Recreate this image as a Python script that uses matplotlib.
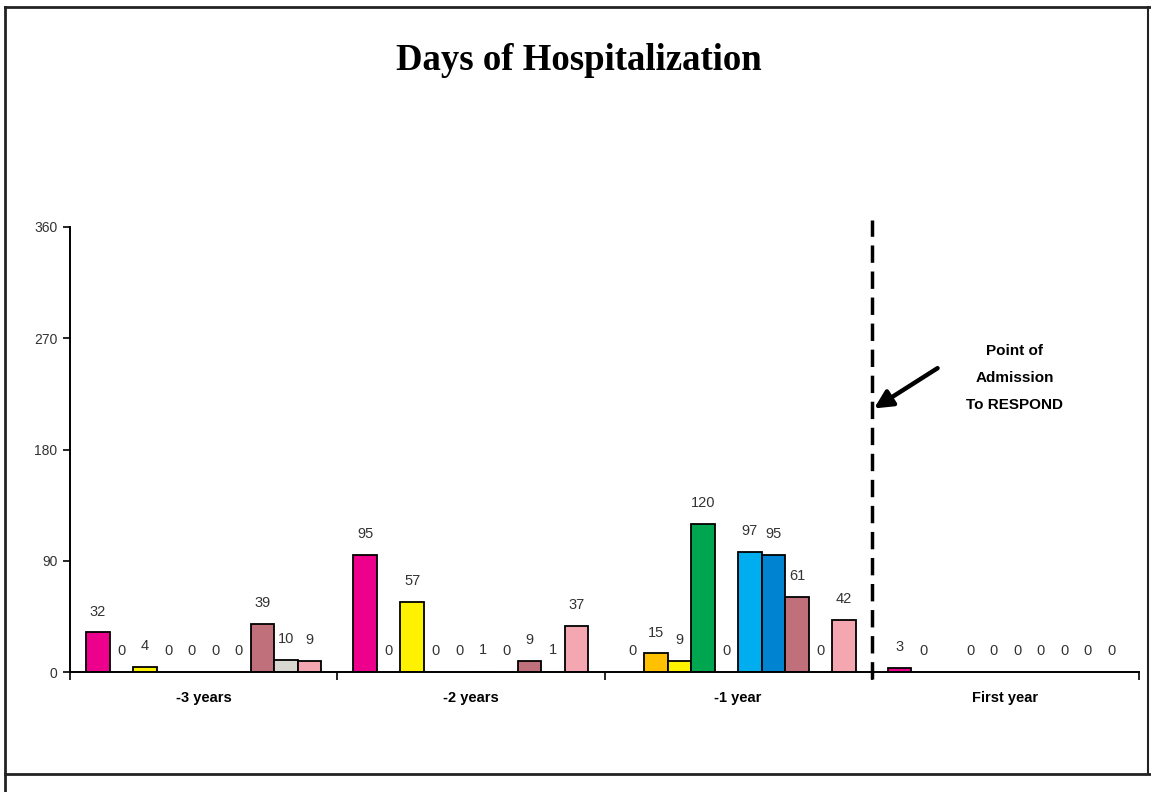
import matplotlib
matplotlib.use("Agg")
import matplotlib.pyplot as plt
from matplotlib.lines import Line2D

plt.rcParams['font.family'] = ['Liberation Sans', 'DejaVu Sans']

# --- dados ---
grupos = ['-3 years', '-2 years', '-1 year', 'First year']
s1 = [32, 95, 0, 3]
s2 = [0, 0, 15, 0]
s3 = [4, 57, 9, None]
s4 = [0, 0, 120, 0]
s5 = [0, 0, 0, 0]
s6 = [0, 1, 97, 0]
s7 = [0, 0, 95, 0]
s8 = [39, 9, 61, 0]
s9 = [10, 1, 0, 0]
s10 = [9, 37, 42, 0]
series = [s1, s2, s3, s4, s5, s6, s7, s8, s9, s10]
cores = ['#EC008C', '#FFC000', '#FFF200', '#00A550', '#9999FF',
         '#00AEEF', '#0083D0', '#C0707A', '#D8D8D0', '#F4A7B0']
y_ticks = [0, 90, 180, 270, 360]

fig = plt.figure(figsize=(11.51, 7.92), dpi=100)
ax = fig.add_axes([70 / 1151, 120 / 792, 1069 / 1151, 445 / 792])

n = len(series)
larg = 0.088
for i, (vals, cor) in enumerate(zip(series, cores)):
    off = -n * larg / 2 + (i + 0.5) * larg
    for g, v in enumerate(vals):
        if v is None:
            continue
        x = g + off
        if v > 1:
            ax.bar(x, v, width=larg, color=cor, edgecolor='black', linewidth=1.3)
        elif v > 0:
            # barras de 1 dia quase não aparecem no original
            ax.bar(x, v, width=larg, color=cor, linewidth=0)
        ax.annotate(str(v), (x, v), xytext=(0, 15), textcoords='offset points',
                    ha='center', va='center', fontsize=10.5, color='#333333')

ax.set_xlim(-0.5, len(grupos) - 0.5)
ax.set_ylim(0, 360)
ax.set_yticks(y_ticks)
ax.tick_params(axis='y', direction='out', length=5, width=1.2, labelsize=10,
               labelcolor='#333333', pad=4)

# ticks nas divisões dos grupos, rótulos no centro
ax.set_xticks([g - 0.5 for g in range(len(grupos) + 1)])
ax.set_xticklabels([])
ax.tick_params(axis='x', which='major', direction='out', length=6, width=1.2)
ax.set_xticks(range(len(grupos)), minor=True)
ax.set_xticklabels(grupos, minor=True, fontweight='bold', fontsize=10.5)
ax.tick_params(axis='x', which='minor', length=0, pad=14)

for lado in ['top', 'right']:
    ax.spines[lado].set_visible(False)
ax.spines['left'].set_linewidth(1.4)
ax.spines['bottom'].set_linewidth(1.4)

# linha tracejada: ponto de admissão
ax.plot([2.5, 2.5], [-6, 366], color='black', linewidth=2.5,
        linestyle=(0, (5, 2.5)), clip_on=False)
ax.annotate('', xy=(2.5, 212), xytext=(2.755, 247),
            arrowprops=dict(arrowstyle='-|>', color='black', lw=3.2,
                            mutation_scale=27))
ax.text(3.036, 238, 'Point of\nAdmission\nTo RESPOND', ha='center', va='center',
        fontsize=11, fontweight='bold', linespacing=2.2)

fig.text(0.503, 0.923, 'Days of Hospitalization', ha='center', va='center',
         fontsize=26.5, fontweight='bold', family='Liberation Serif')

# moldura
fig.add_artist(Line2D([5 / 1151, 5 / 1151], [0, 1 - 7 / 792], color='#222222', lw=2))
fig.add_artist(Line2D([5 / 1151, 1], [1 - 7 / 792, 1 - 7 / 792], color='#222222', lw=2))
fig.add_artist(Line2D([1148 / 1151, 1148 / 1151], [1 - 773 / 792, 1 - 7 / 792], color='#222222', lw=1.5))
fig.add_artist(Line2D([5 / 1151, 1], [1 - 774 / 792, 1 - 774 / 792], color='#222222', lw=2))

fig.savefig('out.png', dpi=100)
